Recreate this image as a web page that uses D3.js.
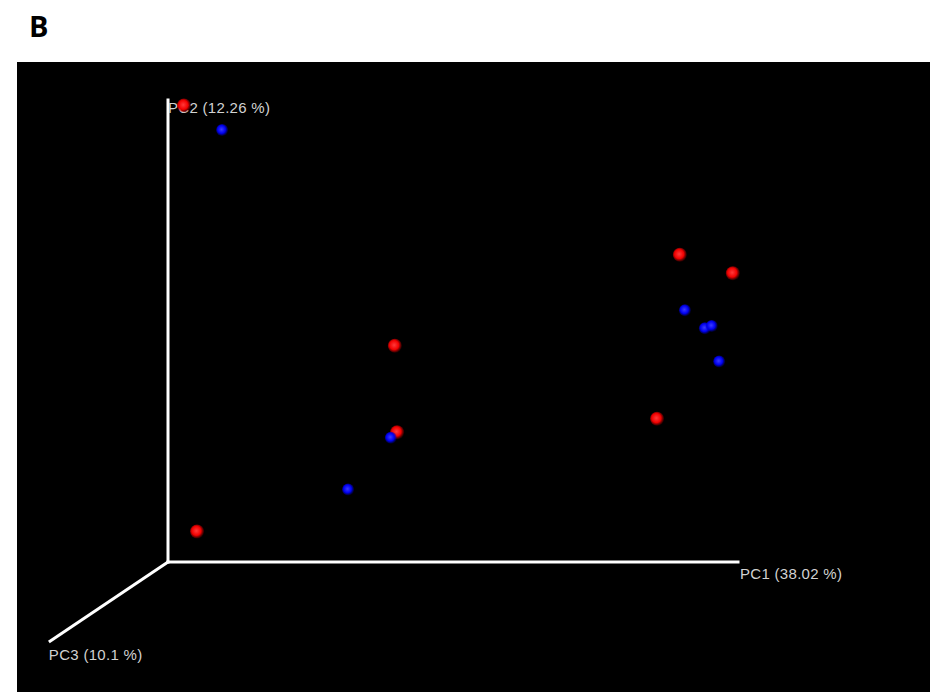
<!DOCTYPE html>
<html>
<head>
<meta charset="utf-8">
<script src="https://cdn.jsdelivr.net/npm/d3@7"></script>
<style>
  body { margin: 0; background: #fff; }
  svg { display: block; }
</style>
</head>
<body>
<svg id="chart"></svg>
<script>
// projected PCoA coordinates (screen plane, 0..1 along PC1 / PC2 axes)
var groupA_x = [0.028, 0.898, 0.991, 0.398, 0.402, 0.858, 0.051];
var groupA_y = [0.988, 0.665, 0.625, 0.468, 0.281, 0.310, 0.066];

var groupB_x = [0.095, 0.907, 0.942, 0.954, 0.967, 0.391, 0.316];
var groupB_y = [0.935, 0.545, 0.506, 0.511, 0.434, 0.269, 0.157];

var axisLabels = ["PC1 (38.02 %)", "PC2 (12.26 %)", "PC3 (10.1 %)"];
// PC3 axis end, projected into the same plane
var pc3End = [-0.209, -0.173];

var width = 930, height = 692;

var svg = d3.select("#chart")
    .attr("width", width)
    .attr("height", height);

var x = d3.scaleLinear().domain([0, 1]).range([168, 738]);
var y = d3.scaleLinear().domain([0, 1]).range([562, 100]);

var defs = svg.append("defs");

function sphere(id, c0, c1, c2) {
    var g = defs.append("radialGradient").attr("id", id)
        .attr("cx", "45%").attr("cy", "45%").attr("r", "55%");
    g.append("stop").attr("offset", "0%").attr("stop-color", c0);
    g.append("stop").attr("offset", "60%").attr("stop-color", c1);
    g.append("stop").attr("offset", "100%").attr("stop-color", c2).attr("stop-opacity", 0.2);
}
sphere("redBall", "#ff3a3a", "#f00000", "#b00000");
sphere("blueBall", "#3a3aff", "#0000f0", "#0000b0");

// title letter
svg.append("text")
    .attr("x", 29)
    .attr("y", 37)
    .style("font-family", "'Open Sans', 'DejaVu Sans', sans-serif")
    .style("font-weight", "bold")
    .style("font-size", "29px")
    .style("fill", "#000")
    .text("B");

// black plot panel
svg.append("rect")
    .attr("x", 17)
    .attr("y", 62)
    .attr("width", width - 17)
    .attr("height", height - 62)
    .attr("fill", "#000");

var axes = svg.append("g")
    .attr("stroke", "#fff")
    .attr("stroke-width", 3)
    .attr("stroke-linecap", "square");

axes.append("line")
    .attr("x1", x(0)).attr("y1", y(0))
    .attr("x2", x(1)).attr("y2", y(0));

axes.append("line")
    .attr("x1", x(0)).attr("y1", y(0))
    .attr("x2", x(0)).attr("y2", y(1));

axes.append("line")
    .attr("stroke-linecap", "butt")
    .attr("x1", x(0)).attr("y1", y(0))
    .attr("x2", x(pc3End[0])).attr("y2", y(pc3End[1]));

var labelStyle = function(sel) {
    sel.style("font-family", "'Liberation Sans', Arial, sans-serif")
        .style("font-size", "15px")
        .style("letter-spacing", "0.3px")
        .style("fill", "#d2d2d2");
};

svg.append("text")
    .attr("x", x(1) + 2)
    .attr("y", y(0) + 17)
    .call(labelStyle)
    .text(axisLabels[0]);

svg.append("text")
    .attr("x", x(0))
    .attr("y", y(1) + 13)
    .call(labelStyle)
    .text(axisLabels[1]);

svg.append("text")
    .attr("x", x(pc3End[0]))
    .attr("y", y(pc3End[1]) + 18)
    .call(labelStyle)
    .text(axisLabels[2]);

var dataA = groupA_x.map(function(d, i) { return {x: d, y: groupA_y[i]}; });
var dataB = groupB_x.map(function(d, i) { return {x: d, y: groupB_y[i]}; });

svg.selectAll(".dotA")
    .data(dataA)
    .enter()
    .append("circle")
    .attr("class", "dotA")
    .attr("cx", function(d) { return x(d.x); })
    .attr("cy", function(d) { return y(d.y); })
    .attr("r", 7)
    .style("fill", "url(#redBall)");

svg.selectAll(".dotB")
    .data(dataB)
    .enter()
    .append("circle")
    .attr("class", "dotB")
    .attr("cx", function(d) { return x(d.x); })
    .attr("cy", function(d) { return y(d.y); })
    .attr("r", 6)
    .style("fill", "url(#blueBall)");
</script>
</body>
</html>
